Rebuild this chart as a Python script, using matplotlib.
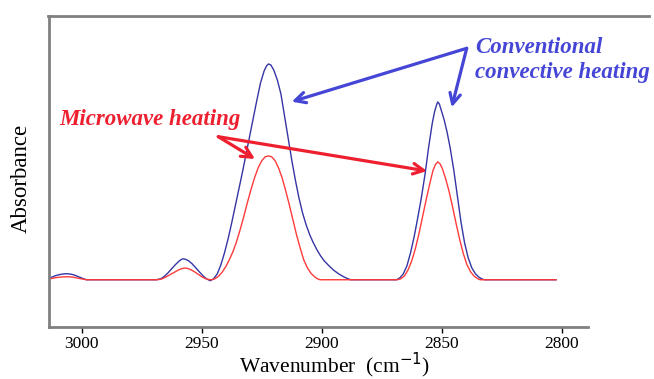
import matplotlib
matplotlib.use("Agg")
import matplotlib.pyplot as plt
from matplotlib.lines import Line2D

# spectrum (wavenumber in cm-1, absorbance in arbitrary units)
conv_wn = [3014.0, 3012.5, 3011.0, 3009.5, 3008.0, 3006.5, 3005.0, 3003.5,
           3002.0, 3000.5, 2999.0, 2998.0,
           2968.8, 2967.0, 2965.5, 2964.0, 2962.5, 2961.0, 2959.5, 2958.5,
           2957.7, 2956.8, 2955.5, 2954.0, 2952.5, 2951.0, 2949.5, 2948.0,
           2946.5, 2945.0, 2943.5, 2942.0, 2940.5, 2939.0, 2937.5, 2936.0,
           2934.5, 2933.0, 2931.5, 2930.0, 2928.5, 2927.0, 2925.5, 2924.0,
           2923.0, 2922.2, 2921.2, 2920.0, 2918.5, 2917.0, 2915.5, 2914.0,
           2912.5, 2911.0, 2909.5, 2908.0, 2906.5, 2905.0, 2903.5, 2902.0,
           2900.5, 2899.0, 2897.0, 2895.0, 2893.0, 2891.0, 2889.5, 2888.0,
           2868.8, 2867.4, 2866.0, 2864.5, 2863.0, 2861.5, 2860.0, 2858.5,
           2857.0, 2855.5, 2854.0, 2853.0, 2852.3, 2851.7, 2851.0, 2850.0,
           2849.0, 2847.8, 2846.5, 2845.0, 2843.5, 2842.0, 2840.5, 2839.0,
           2837.5, 2836.0, 2834.5, 2833.0, 2832.0, 2802.4]
conv_abs = [0.01, 0.025, 0.04, 0.05, 0.057, 0.06, 0.058, 0.05,
            0.037, 0.022, 0.008, 0.0,
            0.0, 0.01, 0.035, 0.07, 0.11, 0.15, 0.185, 0.203,
            0.21, 0.205, 0.19, 0.16, 0.12, 0.08, 0.04, 0.01,
            -0.01, 0.01, 0.06, 0.15, 0.27, 0.41, 0.57, 0.74,
            0.91, 1.08, 1.26, 1.44, 1.62, 1.80, 1.97, 2.09,
            2.14, 2.16, 2.15, 2.10, 2.00, 1.86, 1.64, 1.42,
            1.20, 1.00, 0.82, 0.67, 0.55, 0.45, 0.37, 0.30,
            0.24, 0.19, 0.14, 0.095, 0.06, 0.032, 0.014, 0.0,
            0.0, 0.02, 0.06, 0.14, 0.27, 0.43, 0.62, 0.82,
            1.05, 1.32, 1.56, 1.68, 1.74, 1.78, 1.76, 1.68,
            1.60, 1.48, 1.32, 1.10, 0.84, 0.58, 0.37, 0.22,
            0.12, 0.06, 0.025, 0.005, 0.0, 0.0]

micro_wn = [3014.0, 3012.5, 3011.0, 3009.5, 3008.0, 3006.5, 3005.0, 3003.5,
            3002.0, 3000.5, 2999.0, 2998.0,
            2968.8, 2967.0, 2965.5, 2964.0, 2962.5, 2961.0, 2959.5, 2958.0,
            2957.0, 2956.0, 2954.5, 2953.0, 2951.5, 2950.0, 2948.5, 2947.0,
            2945.8, 2944.5, 2943.0, 2941.5, 2940.0, 2938.5, 2937.0, 2935.5,
            2934.0, 2932.5, 2931.0, 2929.5, 2928.0, 2926.5, 2925.0, 2923.6,
            2922.2, 2920.8, 2919.4, 2918.0, 2916.5, 2915.0, 2913.5, 2912.0,
            2910.5, 2909.0, 2907.5, 2906.0, 2904.5, 2903.0, 2901.8, 2900.7,
            2868.6, 2867.0, 2865.5, 2864.0, 2862.5, 2861.0, 2859.5, 2858.0,
            2856.5, 2855.0, 2853.7, 2852.7, 2851.7, 2850.7, 2849.7, 2848.5,
            2847.0, 2845.5, 2844.0, 2842.5, 2841.0, 2839.5, 2838.0, 2836.5,
            2835.0, 2834.0, 2802.4]
micro_abs = [0.005, 0.013, 0.02, 0.025, 0.028, 0.03, 0.029, 0.025,
             0.018, 0.011, 0.004, 0.0,
             0.0, 0.005, 0.02, 0.04, 0.06, 0.08, 0.10, 0.113,
             0.117, 0.114, 0.10, 0.08, 0.055, 0.03, 0.012, 0.002,
             0.0, 0.01, 0.035, 0.075, 0.13, 0.20, 0.28, 0.38,
             0.50, 0.63, 0.77, 0.90, 1.02, 1.12, 1.19, 1.23,
             1.24, 1.23, 1.19, 1.12, 1.02, 0.89, 0.75, 0.60,
             0.45, 0.32, 0.20, 0.12, 0.065, 0.03, 0.01, 0.0,
             0.0, 0.01, 0.04, 0.10, 0.19, 0.31, 0.46, 0.63,
             0.80, 0.96, 1.09, 1.15, 1.18, 1.16, 1.11, 1.02,
             0.89, 0.73, 0.56, 0.40, 0.26, 0.15, 0.08, 0.035,
             0.01, 0.0, 0.0]

x_ticks = [3000, 2950, 2900, 2850, 2800]

W, H = 654, 379
serif = ["Liberation Serif", "DejaVu Serif"]


def fp(px, py):
    # pixel position -> figure fraction
    return (px / W, 1 - py / H)


fig = plt.figure(figsize=(W / 100, H / 100), dpi=100)
ax = fig.add_axes([48.8 / W, (H - 326.7) / H, 538.9 / W, 310.7 / H])

ax.plot(conv_wn, conv_abs, color="#3535a5", lw=1.0)
ax.plot(micro_wn, micro_abs, color="#ff3a3a", lw=1.0)

ax.set_xlim(3013.7, 2789.2)
ax.set_ylim(-0.47, 2.64)
ax.set_xticks(x_ticks)
ax.set_xticklabels([str(t) for t in x_ticks], fontfamily=serif, fontsize=12.5)
ax.set_yticks([])
ax.tick_params(axis="x", length=4, width=1, color="black", pad=3)
for s in ["top", "right"]:
    ax.spines[s].set_visible(False)
for s in ["left", "bottom"]:
    ax.spines[s].set_color("#808080")
    ax.spines[s].set_linewidth(2)

# top frame line runs past the plot area
fig.add_artist(Line2D([48.3 / W, 649 / W], [1 - 16 / H, 1 - 16 / H],
                      transform=fig.transFigure, color="#808080", lw=2))

fig.text(*fp(21, 178), "Absorbance", rotation=90, ha="center", va="center",
         fontfamily=serif, fontsize=16.5)
fig.text(*fp(335, 373), "Wavenumber  (cm$^{-1}$)", ha="center", va="baseline",
         fontfamily=serif, fontsize=15.5)

red = "#ee2030"
blue = "#4646d6"
label_kw = dict(fontfamily=serif, fontsize=16.5, fontweight="bold",
                fontstyle="italic", va="baseline")
fig.text(*fp(59, 125), "Microwave heating", color=red, **label_kw)
fig.text(*fp(475, 53.3), "Conventional", color=blue, **label_kw)
fig.text(*fp(475, 78), "convective heating", color=blue, **label_kw)

arrow_kw = dict(arrowstyle="->,head_length=0.75,head_width=0.38", lw=2.3,
                shrinkA=0, shrinkB=0)
for tip in [(255, 159), (427, 171)]:
    ax.annotate("", xy=fp(*tip), xycoords="figure fraction",
                xytext=fp(218.3, 136.7), textcoords="figure fraction",
                arrowprops=dict(color=red, **arrow_kw))
for tip in [(291.7, 101.7), (451.7, 107.3)]:
    ax.annotate("", xy=fp(*tip), xycoords="figure fraction",
                xytext=fp(466.7, 48.3), textcoords="figure fraction",
                arrowprops=dict(color=blue, **arrow_kw))

fig.savefig("out.png", dpi=100)
